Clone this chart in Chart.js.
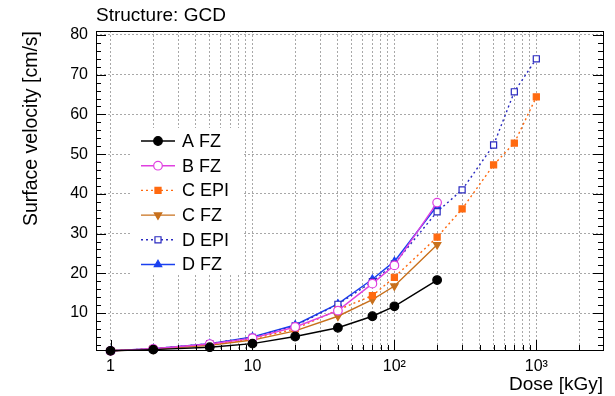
<!DOCTYPE html>
<html>
<head>
    <title>Structure: GCD</title>
    <style>
        body { margin: 0; background: #fff; }
        canvas { display: block; }
    </style>
</head>
<body>
    <canvas id="gcdChart" width="615" height="396"></canvas>

    <script src="https://cdn.jsdelivr.net/npm/chart.js"></script>
    <script>
        // dose points (kGy)
        const doseFZ = [1, 2, 5, 10, 20, 40, 70, 100, 200];
        const doseEPI = [1, 2, 5, 10, 20, 40, 70, 100, 200, 300, 500, 700, 1000];

        // surface velocity (cm/s)
        const aFZ = [0.5, 0.8, 1.4, 2.3, 4.1, 6.3, 9.2, 11.7, 18.3];
        const bFZ = [0.5, 1.0, 2.2, 3.7, 6.5, 10.6, 17.4, 22.0, 37.8];
        const cEPI = [0.5, 1.0, 2.1, 3.5, 6.0, 10.8, 14.4, 19.0, 29.1, 36.2, 47.3, 52.8, 64.4];
        const cFZ = [0.5, 0.9, 1.9, 3.2, 5.5, 9.2, 13.4, 16.8, 27.2];
        const dEPI = [0.5, 1.0, 2.3, 3.9, 6.8, 12.2, 17.9, 22.4, 35.5, 41.0, 52.3, 65.7, 74.0];
        const dFZ = [0.5, 1.0, 2.3, 4.0, 7.0, 12.3, 18.5, 23.0, 37.0];

        const seriesNames = ['A FZ', 'B FZ', 'C EPI', 'C FZ', 'D EPI', 'D FZ'];

        // axis ticks
        const xDecades = [1, 10, 100, 1000];
        const xDecadeLabels = ['1', '10', '10\u00b2', '10\u00b3'];
        const xMinorTicks = [2, 3, 4, 5, 6, 7, 8, 9, 20, 30, 40, 50, 60, 70, 80, 90,
                             200, 300, 400, 500, 600, 700, 800, 900, 2000];
        const yTicks = [10, 20, 30, 40, 50, 60, 70, 80];

        const FONT = "'Liberation Sans', Arial, sans-serif";

        function pts(xs, ys) {
            return xs.map((x, i) => ({ x: x, y: ys[i] }));
        }

        function ds(label, xs, ys, color, style, opts) {
            return Object.assign({
                label: label,
                data: pts(xs, ys),
                borderColor: color,
                backgroundColor: color,
                pointBackgroundColor: color,
                pointBorderColor: color,
                borderWidth: 1.4,
                pointStyle: style,
                pointRadius: 4.3,
                pointBorderWidth: 1.2,
                tension: 0,
                clip: false
            }, opts || {});
        }

        const datasets = [
            ds(seriesNames[0], doseFZ, aFZ, '#000000', 'circle'),
            ds(seriesNames[1], doseFZ, bFZ, '#e040e0', 'circle', { pointBackgroundColor: '#ffffff' }),
            ds(seriesNames[2], doseEPI, cEPI, '#ff6a10', 'rect', { borderDash: [2, 3] }),
            ds(seriesNames[3], doseFZ, cFZ, '#c8701c', 'triangle', { pointRotation: 180 }),
            ds(seriesNames[4], doseEPI, dEPI, '#2a2ac0', 'rect', { borderDash: [2, 3], pointBackgroundColor: '#ffffff' }),
            ds(seriesNames[5], doseFZ, dFZ, '#1a40f0', 'triangle')
        ];

        // white legend box goes under the data, over the grid
        const legendBox = {
            id: 'legendBox',
            beforeDatasetsDraw(chart) {
                const ctx = chart.ctx;
                ctx.save();
                ctx.fillStyle = '#fff';
                ctx.fillRect(132, 128, 112, 146);
                ctx.restore();
            }
        };

        // frame, inner ticks, title and legend (ROOT-like)
        const rootStyle = {
            id: 'rootStyle',
            afterDatasetsDraw(chart) {
                const ctx = chart.ctx;
                const a = chart.chartArea;
                const xs = chart.scales.x, ys = chart.scales.y;
                ctx.save();
                ctx.strokeStyle = '#000';
                ctx.lineWidth = 1;

                // x ticks on bottom edge
                ctx.beginPath();
                xDecades.concat(xMinorTicks).forEach(v => {
                    const px = Math.round(xs.getPixelForValue(v)) + 0.5;
                    if (px < a.left || px > a.right) return;
                    const len = xDecades.includes(v) ? 10 : 5;
                    ctx.moveTo(px, a.bottom);
                    ctx.lineTo(px, a.bottom - len);
                });
                // y ticks on left and right edges
                for (let v = 2; v <= ys.max; v += 2) {
                    const py = Math.round(ys.getPixelForValue(v)) + 0.5;
                    const len = v % 10 === 0 ? 10 : 5;
                    ctx.moveTo(a.left, py); ctx.lineTo(a.left + len, py);
                    ctx.moveTo(a.right, py); ctx.lineTo(a.right - len, py);
                }
                ctx.stroke();

                ctx.strokeRect(Math.round(a.left) + 0.5, Math.round(a.top) + 0.5,
                    Math.round(a.right - a.left), Math.round(a.bottom - a.top));

                // title
                ctx.fillStyle = '#000';
                ctx.font = '19px ' + FONT;
                ctx.textBaseline = 'alphabetic';
                ctx.textAlign = 'left';
                ctx.fillText('Structure: GCD', 96, 21);

                // legend
                ctx.font = '18px ' + FONT;
                ctx.textBaseline = 'middle';
                chart.data.datasets.forEach((d, i) => {
                    const y = 141 + i * 24.7;
                    ctx.strokeStyle = d.borderColor;
                    ctx.lineWidth = d.borderWidth;
                    ctx.setLineDash(d.borderDash || []);
                    ctx.beginPath();
                    ctx.moveTo(141, y); ctx.lineTo(175, y);
                    ctx.stroke();
                    ctx.setLineDash([]);
                    ctx.fillStyle = d.pointBackgroundColor;
                    ctx.strokeStyle = d.pointBorderColor;
                    ctx.lineWidth = d.pointBorderWidth;
                    Chart.helpers.drawPoint(ctx, {
                        pointStyle: d.pointStyle,
                        radius: d.pointRadius,
                        rotation: d.pointRotation || 0,
                        borderWidth: d.pointBorderWidth
                    }, 158, y);
                    ctx.fillStyle = '#000';
                    ctx.fillText(d.label, 182, y + 1);
                });
                ctx.restore();
            }
        };

        new Chart(document.getElementById('gcdChart').getContext('2d'), {
            type: 'line',
            data: { datasets: datasets },
            options: {
                responsive: false,
                animation: false,
                layout: { padding: { top: 31, right: 12, left: 0, bottom: 0 } },
                plugins: { legend: { display: false }, tooltip: { enabled: false } },
                scales: {
                    x: {
                        type: 'logarithmic',
                        min: 0.79,
                        max: 2950,
                        afterBuildTicks: s => {
                            s.ticks = xDecades.concat(xMinorTicks).sort((p, q) => p - q).map(v => ({ value: v }));
                        },
                        afterFit: s => { s.height = 46; },
                        ticks: {
                            autoSkip: false,
                            maxRotation: 0,
                            padding: 7,
                            color: '#000',
                            font: { family: FONT, size: 16 },
                            callback: v => {
                                const k = xDecades.indexOf(v);
                                return k >= 0 ? xDecadeLabels[k] : '';
                            }
                        },
                        grid: { color: '#a8a8a8', lineWidth: 1, drawTicks: false },
                        border: { display: false, dash: [2, 2] },
                        title: {
                            display: true,
                            text: 'Dose [kGy]',
                            align: 'end',
                            color: '#000',
                            font: { family: FONT, size: 19 },
                            padding: { top: 0, bottom: 0 }
                        }
                    },
                    y: {
                        min: 0.7,
                        max: 81,
                        afterBuildTicks: s => {
                            s.ticks = yTicks.map(v => ({ value: v }));
                        },
                        afterFit: s => { s.width = 96; },
                        ticks: {
                            padding: 8,
                            color: '#000',
                            font: { family: FONT, size: 16 }
                        },
                        grid: { color: '#a8a8a8', lineWidth: 1, drawTicks: false },
                        border: { display: false, dash: [2, 2] },
                        title: {
                            display: true,
                            text: 'Surface velocity [cm/s]',
                            align: 'end',
                            color: '#000',
                            font: { family: FONT, size: 19.5 },
                            padding: { top: 20, bottom: 0 }
                        }
                    }
                }
            },
            plugins: [legendBox, rootStyle]
        });
    </script>
</body>
</html>
